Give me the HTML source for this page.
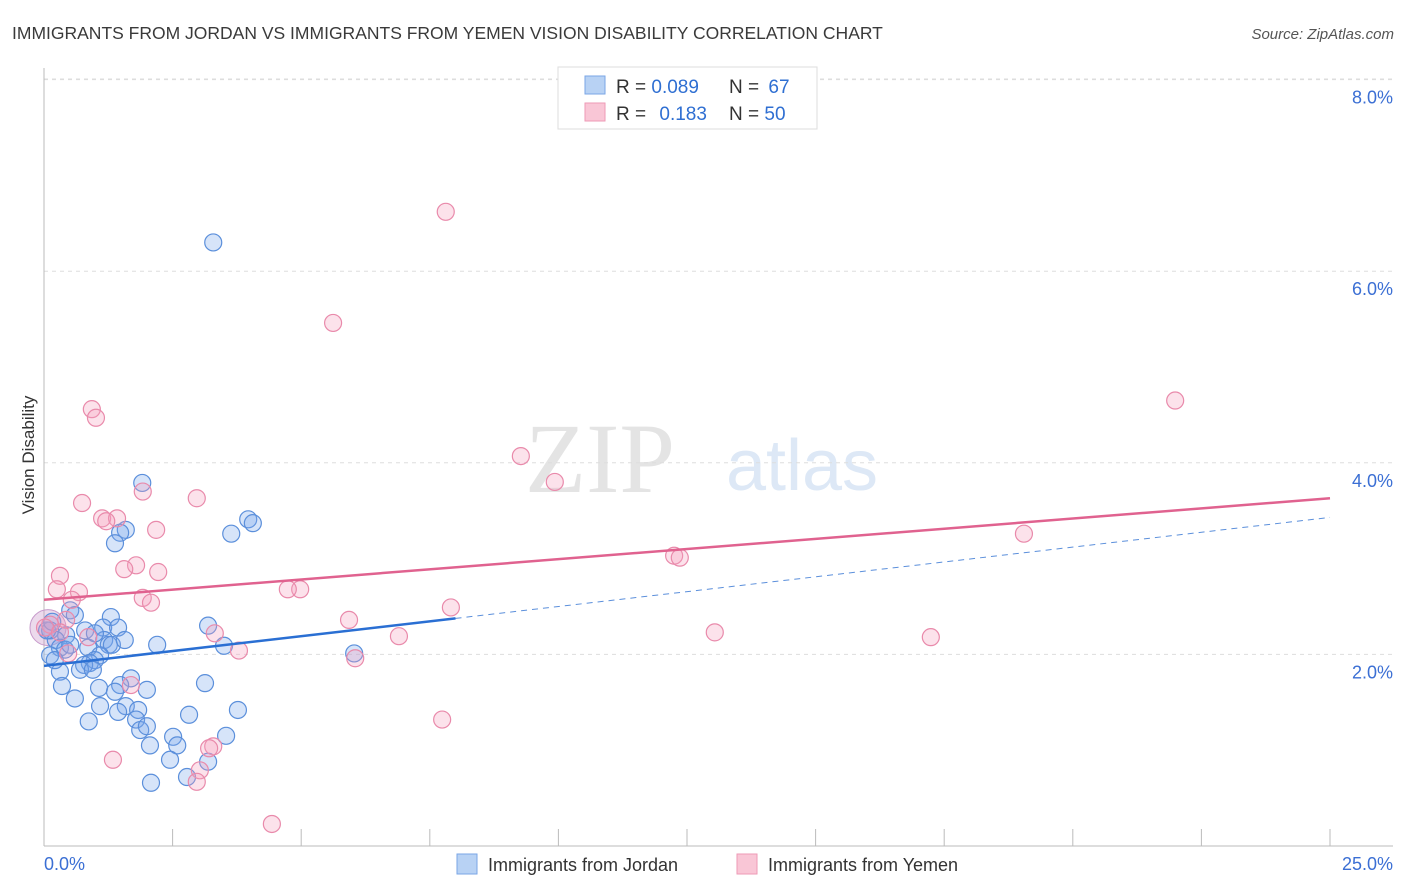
<!DOCTYPE html>
<html><head><meta charset="utf-8">
<style>
body{margin:0;background:#fff;font-family:"Liberation Sans",sans-serif;}
#wrap{position:relative;width:1406px;height:892px;overflow:hidden;}
svg text{font-family:"Liberation Sans",sans-serif;}
</style></head>
<body>
<div id="wrap">
<svg id="chart" width="1406" height="892">
<text x="12" y="39" font-size="17.5" fill="#3a3a3a">IMMIGRANTS FROM JORDAN VS IMMIGRANTS FROM YEMEN VISION DISABILITY CORRELATION CHART</text>
<text x="1394" y="39" font-size="15" fill="#555" font-style="italic" text-anchor="end">Source: ZipAtlas.com</text>
<text x="600" y="492" font-size="100" fill="#e4e4e4" font-family="Liberation Serif" text-anchor="middle" style="font-family:'Liberation Serif',serif">ZIP</text>
<text x="802" y="490" font-size="72" fill="#dde8f6" text-anchor="middle">atlas</text>
<text x="34" y="455" font-size="17" fill="#333" text-anchor="middle" transform="rotate(-90 34 455)">Vision Disability</text>
<g id="grid"></g><g id="axes"></g><g id="marks"></g><g id="lines"></g>
<g>
<rect x="558" y="67" width="259" height="62" fill="#fff" stroke="#ddd"/>
<rect x="585" y="76" width="20" height="18" fill="#b8d2f4" stroke="#7aa6e6"/>
<rect x="585" y="103" width="20" height="18" fill="#f9c6d6" stroke="#ee9ab6"/>
<text x="616" y="93" font-size="19" fill="#333">R = <tspan fill="#2f6fd2">0.089</tspan></text>
<text x="729" y="93" font-size="19" fill="#333">N = <tspan fill="#2f6fd2" dx="4">67</tspan></text>
<text x="616" y="120" font-size="19" fill="#333">R = <tspan fill="#2f6fd2" dx="8">0.183</tspan></text>
<text x="729" y="120" font-size="19" fill="#333">N = <tspan fill="#2f6fd2">50</tspan></text>
</g>
<g>
<rect x="457" y="854" width="20" height="20" fill="#b8d2f4" stroke="#7aa6e6"/>
<text x="488" y="871" font-size="18" fill="#333">Immigrants from Jordan</text>
<rect x="737" y="854" width="20" height="20" fill="#f9c6d6" stroke="#ee9ab6"/>
<text x="768" y="871" font-size="18" fill="#333">Immigrants from Yemen</text>
</g>
</svg>
</div>
<script>
const jordanX=[3.29,1.91,3.97,4.06,3.64,1.59,1.48,1.38,0.51,0.60,1.30,1.15,0.43,0.12,0.23,0.86,1.17,1.26,1.32,2.20,3.19,3.50,6.03,0.31,0.41,1.09,0.99,0.89,0.78,0.70,0.95,0.31,1.69,1.48,1.07,0.35,2.00,3.13,0.60,1.38,1.09,1.59,1.83,3.77,0.87,1.44,1.79,1.87,2.00,2.82,2.51,3.54,2.06,2.59,2.45,3.19,2.78,2.08,0.12,0.21,0.51,0.06,0.16,0.80,1.44,1.57,0.99];
const jordanY=[6.30,3.79,3.41,3.37,3.26,3.30,3.27,3.16,2.46,2.41,2.39,2.28,2.20,2.25,2.15,2.07,2.15,2.10,2.10,2.10,2.30,2.09,2.01,2.07,2.05,1.99,1.94,1.91,1.89,1.84,1.84,1.82,1.75,1.68,1.65,1.67,1.63,1.70,1.54,1.61,1.46,1.46,1.42,1.42,1.30,1.40,1.32,1.21,1.25,1.37,1.14,1.15,1.05,1.05,0.90,0.88,0.72,0.66,1.99,1.94,2.10,2.25,2.34,2.25,2.28,2.15,2.22];
const yemenX=[7.81,5.62,21.99,0.93,1.01,9.27,9.93,1.92,2.97,0.74,1.13,1.42,1.21,2.18,19.05,12.25,12.36,1.79,1.56,2.22,0.31,0.25,0.68,1.92,2.08,4.98,4.74,7.91,5.93,0.43,0.86,3.32,6.90,13.04,17.24,0.47,3.79,6.05,1.69,7.74,1.34,3.29,3.21,3.03,2.97,4.43,0.12,0.02,0.54,0.31];
const yemenY=[6.62,5.46,4.65,4.56,4.47,4.07,3.80,3.70,3.63,3.58,3.42,3.42,3.39,3.30,3.26,3.03,3.01,2.93,2.89,2.86,2.82,2.68,2.65,2.59,2.54,2.68,2.68,2.49,2.36,2.36,2.18,2.22,2.19,2.23,2.18,2.01,2.04,1.96,1.68,1.32,0.90,1.04,1.02,0.79,0.67,0.23,2.31,2.28,2.57,2.23];
const yTicks=[2,4,6,8];
const yTickLabels=["2.0%","4.0%","6.0%","8.0%"];
const xTicks=[0,2.5,5,7.5,10,12.5,15,17.5,20,22.5,25];
const jordanTrend=[1.88,3.43];
const yemenTrend=[2.57,3.63];
const jordanSolidEnd=8.0;

const NS="http://www.w3.org/2000/svg";
const X0=44,X1=1330,Y0=846,PXY=95.8;
function sx(v){return X0+(X1-X0)*v/25;}
function sy(v){return Y0-v*PXY;}
function mk(tag,attrs,parent){const e=document.createElementNS(NS,tag);for(const k in attrs)e.setAttribute(k,attrs[k]);parent.appendChild(e);return e;}
const grid=document.getElementById('grid'),axes=document.getElementById('axes'),marks=document.getElementById('marks'),lines=document.getElementById('lines');
mk('line',{x1:44,y1:79,x2:1393,y2:79,stroke:'#ddd','stroke-dasharray':'4,4'},grid);
yTicks.forEach((t,i)=>{
  const g=mk('line',{x1:44,y1:sy(t),x2:1393,y2:sy(t),stroke:'#ddd','stroke-dasharray':'4,4'},grid);
  
  
  const tx=mk('text',{x:1393,y:sy(t)+24,'font-size':18,fill:'#3b6fd4','text-anchor':'end'},axes);
  tx.textContent=yTickLabels[i];
  
  
});
const xa=mk('line',{x1:44,y1:846,x2:1393,y2:846,stroke:'#bbb'},axes);


const ya=mk('line',{x1:44,y1:68,x2:44,y2:846,stroke:'#bbb'},axes);


xTicks.forEach(t=>{
  const l=mk('line',{x1:sx(t),y1:829,x2:sx(t),y2:846,stroke:'#bbb'},axes);
  
  
});
const xl0=mk('text',{x:44,y:870,'font-size':18,fill:'#3b6fd4'},axes);xl0.textContent='0.0%';


const xl1=mk('text',{x:1393,y:870,'font-size':18,fill:'#3b6fd4','text-anchor':'end'},axes);xl1.textContent='25.0%';



// big overlapping cluster at origin
const big=mk('circle',{cx:48,cy:sy(2.28),r:18,fill:'rgba(200,150,200,0.35)',stroke:'#c79acb'},marks);


jordanX.forEach((x,i)=>{
  const c=mk('circle',{cx:sx(x),cy:sy(jordanY[i]),r:8.5,fill:'rgba(120,165,235,0.3)',stroke:'#5b8fdb','stroke-width':1.2},marks);
  
  
});
yemenX.forEach((x,i)=>{
  const c=mk('circle',{cx:sx(x),cy:sy(yemenY[i]),r:8.5,fill:'rgba(245,160,190,0.3)',stroke:'#e98aab','stroke-width':1.2},marks);
  
  
});
function ty(tr,x){return tr[0]+(tr[1]-tr[0])*x/25;}
const yl=mk('line',{x1:sx(0),y1:sy(yemenTrend[0]),x2:sx(25),y2:sy(yemenTrend[1]),stroke:'#e0628f','stroke-width':2.5},lines);


const jl=mk('line',{x1:sx(0),y1:sy(jordanTrend[0]),x2:sx(jordanSolidEnd),y2:sy(ty(jordanTrend,jordanSolidEnd)),stroke:'#2a6fd3','stroke-width':2.5},lines);


const jd=mk('line',{x1:sx(jordanSolidEnd),y1:sy(ty(jordanTrend,jordanSolidEnd)),x2:sx(25),y2:sy(jordanTrend[1]),stroke:'#5b8fdb','stroke-width':1,'stroke-dasharray':'6,5'},lines);


</script>
</body></html>
